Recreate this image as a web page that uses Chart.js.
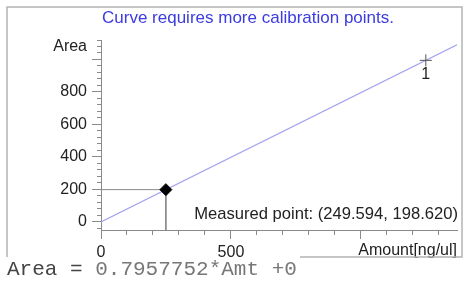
<!DOCTYPE html>
<html>
<head>
<meta charset="utf-8">
<script src="https://cdn.jsdelivr.net/npm/chart.js@4"></script>
<style>
  html, body { margin: 0; padding: 0; background: #fff; }
  #wrap { width: 464px; height: 281px; }
</style>
</head>
<body>
<div id="wrap"><canvas id="calChart" width="464" height="281"></canvas></div>
<script>
// ---- data ----
const titleText = 'Curve requires more calibration points.';
const formulaLead = 'Area =';
const formulaRest = ' 0.7957752*Amt +0';

const fitLineAmt = [0, 1370];
const fitLineArea = [0, 1090.2];

const calAmt = [1250];
const calArea = [994.7];
const calLabels = ['1'];

const measuredAmt = [249.594];
const measuredArea = [198.620];
const measuredText = 'Measured point: (249.594, 198.620)';

const xLabelValues = [0, 500];
const xMajorValues = [0, 500, 1000];
const xTitle = 'Amount[ng/ul]';

const yLabelValues = [0, 200, 400, 600, 800];
const yMajorValues = [0, 200, 400, 600, 800, 1000];
const yUnitValue = 1080;
const yUnitLabel = 'Area';

// ---- helpers ----
const AXIS_GRAY = '#8a8a8a';
const FONT = "'Liberation Sans', Arial, sans-serif";

function toPoints(xs, ys) {
    return xs.map((x, i) => ({ x: x, y: ys[i] }));
}

const measuredPt = toPoints(measuredAmt, measuredArea);

// ---- extra drawing: title, frame, captions ----
const decorPlugin = {
    id: 'decor',
    afterDraw(chart) {
        const ctx = chart.ctx;
        const xs = chart.scales.x;
        const ys = chart.scales.y;
        ctx.save();

        // frame
        ctx.strokeStyle = '#b4b4b4';
        ctx.lineWidth = 1.5;
        ctx.beginPath();
        ctx.moveTo(7, 257);
        ctx.lineTo(7, 7);
        ctx.lineTo(462, 7);
        ctx.lineTo(462, 257);
        ctx.lineTo(300, 257);
        ctx.stroke();

        // title
        ctx.fillStyle = '#3b3be0';
        ctx.font = '17px ' + FONT;
        ctx.textAlign = 'center';
        ctx.textBaseline = 'middle';
        ctx.fillText(titleText, 248, 18);

        // calibration point labels
        ctx.fillStyle = '#222';
        ctx.font = '16px ' + FONT;
        ctx.textBaseline = 'top';
        calLabels.forEach((lbl, i) => {
            ctx.fillText(lbl, xs.getPixelForValue(calAmt[i]), ys.getPixelForValue(calArea[i]) + 6);
        });

        // measured point caption
        ctx.font = '16.6px ' + FONT;
        ctx.textAlign = 'right';
        ctx.textBaseline = 'alphabetic';
        ctx.fillText(measuredText, 458, 219);

        // fit equation
        ctx.font = "21px 'Liberation Mono', 'Courier New', monospace";
        ctx.textAlign = 'left';
        ctx.fillStyle = '#444';
        ctx.fillText(formulaLead, 7, 275);
        const leadW = ctx.measureText(formulaLead).width;
        ctx.fillStyle = '#777';
        ctx.fillText(formulaRest, 7 + leadW, 275);

        ctx.restore();
    }
};

Chart.defaults.font.family = FONT;
Chart.defaults.font.size = 16;
Chart.defaults.color = '#222';

new Chart(document.getElementById('calChart'), {
    type: 'scatter',
    data: {
        datasets: [
            {
                label: 'measured',
                data: measuredPt,
                pointStyle: 'rectRot',
                pointRadius: 6,
                backgroundColor: '#000',
                borderColor: '#000',
                borderWidth: 1
            },
            {
                label: 'calibration',
                data: toPoints(calAmt, calArea),
                pointStyle: 'cross',
                pointRadius: 6,
                borderColor: '#555',
                borderWidth: 1
            },
            {
                label: 'hline',
                data: [{ x: 0, y: measuredArea[0] }, measuredPt[0]],
                showLine: true,
                borderColor: AXIS_GRAY,
                borderWidth: 1,
                pointRadius: 0
            },
            {
                label: 'vline',
                data: [measuredPt[0], { x: measuredAmt[0], y: -50 }],
                showLine: true,
                borderColor: AXIS_GRAY,
                borderWidth: 1,
                pointRadius: 0
            },
            {
                label: 'fit',
                data: toPoints(fitLineAmt, fitLineArea),
                showLine: true,
                borderColor: '#a4a4f0',
                borderWidth: 1.2,
                pointRadius: 0
            }
        ]
    },
    options: {
        responsive: false,
        animation: false,
        layout: { padding: { top: 40, left: 10, right: 2, bottom: 24 } },
        plugins: {
            legend: { display: false },
            tooltip: { enabled: false }
        },
        scales: {
            x: {
                type: 'linear',
                min: 0,
                max: 1370,
                afterFit: (scale) => { scale.height = 27; },
                border: { display: true, color: AXIS_GRAY, width: 1 },
                grid: {
                    drawOnChartArea: false,
                    drawTicks: true,
                    tickLength: 9,
                    tickColor: AXIS_GRAY,
                    tickBorderDash: (ctx) => xMajorValues.includes(ctx.tick && ctx.tick.value) ? [] : [4, 20]
                },
                ticks: {
                    stepSize: 100,
                    includeBounds: false,
                    padding: 4,
                    maxRotation: 0,
                    autoSkip: false,
                    callback: (v) => xLabelValues.includes(v) ? String(v) : ''
                },
                title: {
                    display: true,
                    text: xTitle,
                    align: 'end',
                    color: '#222',
                    font: { size: 16 },
                    padding: { top: -18, bottom: -3 }
                }
            },
            y: {
                type: 'linear',
                min: -50,
                max: 1120,
                afterFit: (scale) => { scale.width = 91; },
                border: { display: true, color: AXIS_GRAY, width: 1 },
                grid: {
                    drawOnChartArea: false,
                    drawTicks: true,
                    tickLength: 9,
                    tickColor: AXIS_GRAY,
                    tickBorderDash: (ctx) => yMajorValues.includes(ctx.tick && ctx.tick.value) ? [] : [0, 5, 4, 20]
                },
                ticks: {
                    stepSize: 40,
                    includeBounds: false,
                    padding: 5,
                    autoSkip: false,
                    callback: (v) => {
                        if (v === yUnitValue) return yUnitLabel;
                        return yLabelValues.includes(v) ? String(v) : '';
                    }
                }
            }
        }
    },
    plugins: [decorPlugin]
});
</script>
</body>
</html>
